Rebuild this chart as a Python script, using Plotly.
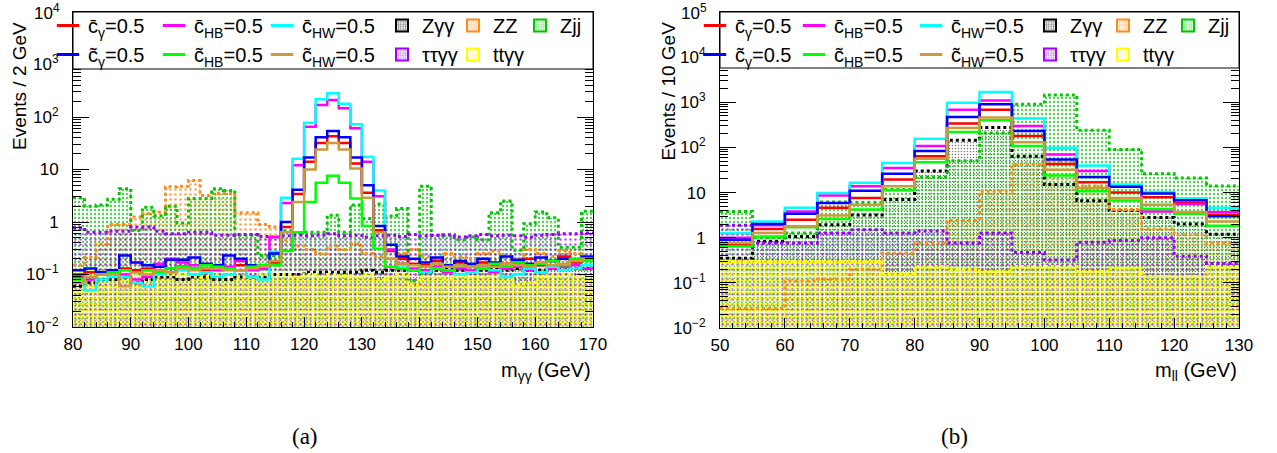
import plotly.graph_objects as go

W, H = 1277, 453

# ---------------- data: left panel (m_yy, 2 GeV bins 80-170) ----------------
myy_edges = list(range(80, 172, 2))

L_cbar_g = [0.10,0.11,0.10,0.11,0.13,0.12,0.13,0.12,0.13,0.14,0.13,0.12,0.14,0.13,0.15,0.13,0.14,0.17,
            0.8,3.4,14,32,43,32,13,3.6,0.7,
            0.28,0.2,0.16,0.15,0.18,0.15,0.17,0.14,0.17,0.15,0.16,0.17,0.2,0.15,0.18,0.22,0.17,0.2]
L_cbar_HB = [0.09,0.08,0.10,0.12,0.10,0.08,0.09,0.16,0.20,0.17,0.15,0.13,0.12,0.14,0.18,0.12,0.13,0.52,
             2.3,12,65,170,210,147,61,14,3.1,
             0.3,0.16,0.13,0.12,0.14,0.11,0.13,0.12,0.15,0.11,0.13,0.14,0.12,0.16,0.13,0.14,0.15,0.13]
L_cbar_HW = [0.07,0.05,0.08,0.09,0.09,0.07,0.06,0.10,0.11,0.12,0.10,0.11,0.09,0.10,0.12,0.09,0.08,0.27,
             2.9,16,78,218,282,178,73,17.5,4.0,
             0.2,0.15,0.12,0.11,0.13,0.12,0.1,0.11,0.13,0.12,0.09,0.1,0.13,0.11,0.14,0.12,0.13,0.15]
L_ctil_g = [0.12,0.13,0.11,0.12,0.23,0.17,0.15,0.14,0.19,0.19,0.21,0.16,0.15,0.23,0.20,0.15,0.14,0.25,
            1.0,4.1,17,41,54,41,17,5.0,0.84,
            0.37,0.22,0.2,0.17,0.21,0.15,0.18,0.16,0.2,0.17,0.22,0.19,0.16,0.21,0.18,0.2,0.19,0.22]
L_ctil_HB = [0.08,0.09,0.1,0.11,0.12,0.11,0.12,0.11,0.13,0.14,0.13,0.15,0.14,0.13,0.12,0.14,0.15,0.15,
             0.28,0.64,2.4,5.6,7.6,5.6,2.8,0.84,0.31,
             0.14,0.13,0.12,0.14,0.13,0.12,0.15,0.14,0.13,0.16,0.14,0.17,0.15,0.16,0.18,0.15,0.2,0.18]
L_ctil_HW = [0.07,0.09,0.1,0.1,0.06,0.11,0.1,0.12,0.11,0.13,0.12,0.13,0.13,0.12,0.12,0.13,0.14,0.18,
             0.64,2.4,10,24,32,24,10.5,2.9,0.64,
             0.2,0.16,0.15,0.14,0.16,0.14,0.15,0.14,0.15,0.14,0.16,0.15,0.14,0.17,0.15,0.16,0.18,0.2]

L_Zyy = [0.06,0.07,0.08,0.08,0.09,0.07,0.08,0.09,0.09,0.08,0.09,0.09,0.08,0.08,0.09,0.09,0.09,0.1,
         0.1,0.1,0.11,0.11,0.11,0.11,0.11,0.12,0.11,0.12,0.12,0.12,0.11,0.12,0.13,0.12,0.12,0.12,
         0.13,0.12,0.13,0.12,0.12,0.13,0.14,0.13,0.13]
L_ZZ = [0.15,0.21,0.38,0.9,0.9,1.25,1.44,1.55,4.7,4.8,6.2,3.2,3.5,3.5,1.5,1.5,0.9,0.8,
        0.45,0.35,0.3,0.25,0.35,0.3,0.38,0.25,0.22,0.2,0.25,0.3,0.22,0.2,0.25,0.22,0.2,0.25,
        0.28,0.22,0.2,0.3,0.25,0.22,0.28,0.25,0.2]
L_Zjj = [2.9,2.0,2.1,2.7,4.3,0.69,1.9,1.3,2.0,0.96,2.8,2.8,4.3,4.0,0.56,0.56,0.23,0.23,
         0.68,0.62,0.64,0.64,1.34,0.64,2.1,1.16,2.2,1.3,1.8,0.077,4.8,0.56,0.55,0.46,0.52,0.46,
         1.5,2.5,0.29,0.93,1.55,1.2,0.33,0.33,1.6]
L_ttaa = [0.78,0.64,0.64,0.67,0.67,0.8,0.8,0.67,0.6,0.6,0.64,0.64,0.56,0.56,0.58,0.58,0.53,0.52,
          0.55,0.56,0.55,0.56,0.6,0.55,0.56,0.52,0.55,0.56,0.53,0.58,0.55,0.56,0.57,0.52,0.55,0.58,
          0.55,0.56,0.55,0.52,0.56,0.58,0.6,0.6,0.62]
L_ttyy = [0.11,0.12,0.1,0.11,0.1,0.1,0.11,0.1,0.1,0.1,0.1,0.09,0.1,0.1,0.09,0.09,0.1,0.1,
          0.1,0.09,0.1,0.09,0.1,0.095,0.09,0.1,0.08,0.09,0.1,0.065,0.09,0.09,0.085,0.095,0.09,0.09,
          0.1,0.09,0.065,0.07,0.09,0.095,0.1,0.09,0.1]

# ---------------- data: right panel (m_ll, 5 GeV bins 50-130) ----------------
mll_edges = list(range(50, 135, 5))

R_cbar_g = [0.7,1.56,2.5,4.6,7.6,19.4,64,340,680,180,43,17,10,7.9,5.9,3.2]
R_cbar_HB = [1.0,1.9,3.8,8.6,13.8,35,107,680,1100,300,70,30,13.4,3.8,5.6,3.7]
R_cbar_HW = [1.27,2.3,4.6,9.8,16.4,45,156,980,1700,440,98,40,15,10.3,7.4,4.6]
R_ctil_g = [0.9,2.0,3.4,5.9,11,26,83,470,900,230,54,22,13.4,9.5,6.8,3.0]
R_ctil_HB = [0.64,1.07,1.7,2.6,4.2,11.3,47,220,400,107,24,10.7,6.7,4.3,3.4,1.85]
R_ctil_HW = [0.76,1.27,1.8,3.1,5.4,13.8,56,270,460,130,32,12.7,7.6,5.4,3.7,2.3]

R_Zyy = [0.35,0.83,1.07,1.94,3.2,7,30,145,275,64,15,6.6,4.0,2.8,2.0,1.2]
R_ZZ = [0.027,0.027,0.11,0.12,0.2,0.45,0.75,2.4,10.7,42,50,14,4.2,1.56,1.16,0.76]
R_Zjj = [3.8,1.0,1.27,6.2,6.0,11.7,22,51,210,900,1450,240,90,26,21,14]
R_ttaa = [1.9,0.76,0.76,1.27,1.5,1.27,1.4,0.76,1.27,0.47,0.32,0.79,0.87,1.0,0.39,0.27]
R_ttyy = [0.3,0.3,0.3,0.3,0.3,0.16,0.23,0.2,0.18,0.23,0.23,0.18,0.21,0.14,0.14,0.23]

# ---------------- labels / styles ----------------
sig_names = ["c\u0304<sub>γ</sub>=0.5", "c\u0304<sub>HB</sub>=0.5", "c\u0304<sub>HW</sub>=0.5",
             "c\u0303<sub>γ</sub>=0.5", "c\u0303<sub>HB</sub>=0.5", "c\u0303<sub>HW</sub>=0.5"]
sig_colors = ["#ff0000", "#ff00ff", "#00ffff", "#0000ff", "#00ff00", "#cc9a3c"]
bg_names = ["Zγγ", "ZZ", "Zjj", "ττγγ", "ttγγ"]
bg_colors = ["#000000", "#ff8c1a", "#00c800", "#9900ff", "#ffff00"]
# pattern (size, solidity, opacity) per background
bg_pat = [(3, 0.18, 0.55), (5, 0.22, 0.75), (4, 0.26, 0.75), (5, 0.18, 0.7), (3, 0.42, 0.95)]

ytick_l = [0.01, 0.1, 1, 10, 100, 1000]
ytext_l = ["10<sup>−2</sup>", "10<sup>−1</sup>", "1", "10", "10<sup>2</sup>", "10<sup>3</sup>"]
ytick_r = [0.01, 0.1, 1, 10, 100, 1000, 10000]
ytext_r = ytext_l + ["10<sup>4</sup>"]
top_label_l = "10<sup>4</sup>"
top_label_r = "10<sup>5</sup>"

FONT = "Liberation Sans"
fig = go.Figure()


def px_x(p):
    return p / W


def px_y(p):
    return 1 - p / H


def add_panel(xa, ya, edges, sigs, bgs, col_legends):
    centers = [(a + b) / 2 for a, b in zip(edges[:-1], edges[1:])]
    widths = [b - a for a, b in zip(edges[:-1], edges[1:])]
    # backgrounds: pattern fill + dotted outline
    for vals, col, (sz, sol, op) in zip(bgs, bg_colors, bg_pat):
        fig.add_trace(go.Bar(x=centers, y=vals, width=widths, xaxis=xa, yaxis=ya,
                             marker=dict(color="rgba(0,0,0,0)", line=dict(width=0),
                                         pattern=dict(shape=".", fgcolor=col, bgcolor="rgba(0,0,0,0)",
                                                      size=sz, solidity=sol, fgopacity=op)),
                             showlegend=False, hoverinfo="skip"))
    for vals, col in zip(bgs, bg_colors):
        fig.add_trace(go.Scatter(x=edges, y=vals + [vals[-1]], xaxis=xa, yaxis=ya, mode="lines",
                                 line=dict(shape="hv", color=col, width=3, dash="dot"),
                                 showlegend=False, hoverinfo="skip"))
    for vals, col in zip(sigs, sig_colors):
        fig.add_trace(go.Scatter(x=edges, y=vals + [vals[-1]], xaxis=xa, yaxis=ya, mode="lines",
                                 line=dict(shape="hv", color=col, width=2.5),
                                 showlegend=False, hoverinfo="skip"))
    # legend entries (one legend per column)
    sig_cols = [[0, 3], [1, 4], [2, 5]]
    for ci, idxs in enumerate(sig_cols):
        lg = col_legends[ci]
        for r, i in enumerate(idxs):
            fig.add_trace(go.Scatter(x=[None], y=[None], xaxis=xa, yaxis=ya, mode="markers",
                                     name=sig_names[i], legend=lg, legendgroup=f"{lg}_{r}",
                                     marker=dict(symbol="line-ew", size=16,
                                                 line=dict(width=3, color=sig_colors[i]))))
    bg_cols = [[0, 3], [1, 4], [2]]
    for ci, idxs in enumerate(bg_cols):
        lg = col_legends[3 + ci]
        for r, i in enumerate(idxs):
            fig.add_trace(go.Bar(x=[None], y=[None], xaxis=xa, yaxis=ya, name=bg_names[i],
                                 legend=lg, legendgroup=f"{lg}_{r}",
                                 marker=dict(color="rgba(0,0,0,0)", line=dict(width=2, color=bg_colors[i]),
                                             pattern=dict(shape=".", fgcolor=bg_colors[i],
                                                          bgcolor="rgba(0,0,0,0)", size=3,
                                                          solidity=0.45))))


left_leg = ["legend", "legend2", "legend3", "legend4", "legend5", "legend6"]
right_leg = ["legend7", "legend8", "legend9", "legend10", "legend11", "legend12"]

add_panel("x", "y", myy_edges,
          [L_cbar_g, L_cbar_HB, L_cbar_HW, L_ctil_g, L_ctil_HB, L_ctil_HW],
          [L_Zyy, L_ZZ, L_Zjj, L_ttaa, L_ttyy], left_leg)
add_panel("x2", "y2", mll_edges,
          [R_cbar_g, R_cbar_HB, R_cbar_HW, R_ctil_g, R_ctil_HB, R_ctil_HW],
          [R_Zyy, R_ZZ, R_Zjj, R_ttaa, R_ttyy], right_leg)

# frame geometry (pixels)
LX0, LX1 = 73, 593
RX0, RX1 = 720, 1239
TOP, BOT = 12, 327

axis_common = dict(showline=True, linecolor="black", linewidth=1, mirror="allticks",
                   ticks="inside", tickcolor="black", showgrid=False, zeroline=False,
                   automargin=False,
                   tickfont=dict(family=FONT, size=17, color="black"))

xt_l = list(range(80, 171, 10))
xt_r = list(range(50, 131, 10))
fig.update_layout(
    xaxis=dict(domain=[px_x(LX0), px_x(LX1)], range=[80, 170], anchor="y", tickvals=xt_l,
               ticklen=10, minor=dict(dtick=2, ticks="inside", ticklen=5, tickcolor="black"),
               ticklabelstandoff=2, **axis_common),
    yaxis=dict(domain=[px_y(BOT), px_y(TOP)], type="log", range=[-2, 4], anchor="x",
               tickvals=ytick_l, ticktext=ytext_l,
               ticklen=16, minor=dict(dtick="D1", ticks="inside", ticklen=8, tickcolor="black"),
               ticklabelstandoff=10, **axis_common),
    xaxis2=dict(domain=[px_x(RX0), px_x(RX1)], range=[50, 130], anchor="y2", tickvals=xt_r,
                ticklen=10, minor=dict(dtick=2, ticks="inside", ticklen=5, tickcolor="black"),
                ticklabelstandoff=2, **axis_common),
    yaxis2=dict(domain=[px_y(BOT + 1), px_y(TOP)], type="log", range=[-2, 5], anchor="x2",
                tickvals=ytick_r, ticktext=ytext_r,
                ticklen=16, minor=dict(dtick="D1", ticks="inside", ticklen=8, tickcolor="black"),
                ticklabelstandoff=10, **axis_common),
    barmode="overlay", bargap=0,
    width=W, height=H, margin=dict(l=0, r=0, t=0, b=0),
    paper_bgcolor="white", plot_bgcolor="white",
    font=dict(family=FONT, color="black"),
)

# legends: one per column
leg_left_px = [48, 154, 262, 382, 453, 520]
leg_right_px = [695, 794, 911, 1030, 1103, 1168]
for names, xs in ((left_leg, leg_left_px), (right_leg, leg_right_px)):
    for nm, xp in zip(names, xs):
        fig.update_layout({nm: dict(x=px_x(xp), xanchor="left", y=px_y(6), yanchor="top",
                                    orientation="v", bgcolor="rgba(0,0,0,0)", borderwidth=0,
                                    tracegroupgap=0, traceorder="grouped", itemclick=False,
                                    itemdoubleclick=False,
                                    font=dict(family=FONT, size=20, color="black"))})

# legend boxes
for x0, x1, yb in ((LX0, LX1, 69), (RX0, RX1, 68)):
    fig.add_shape(type="rect", xref="paper", yref="paper", x0=px_x(x0), x1=px_x(x1),
                  y0=px_y(yb), y1=px_y(TOP), fillcolor="white", line=dict(color="black", width=1),
                  layer="above")

# axis titles, top-most tick labels and captions
ann = [
    dict(text=top_label_l, x=px_x(LX0 - 11), y=px_y(TOP), xanchor="right", yanchor="middle",
         font=dict(size=17, family=FONT)),
    dict(text=top_label_r, x=px_x(RX0 - 11), y=px_y(TOP), xanchor="right", yanchor="middle",
         font=dict(size=17, family=FONT)),
    dict(text="m<sub>γγ</sub> (GeV)", x=px_x(LX1), y=px_y(371), xanchor="right", yanchor="middle",
         font=dict(size=20, family=FONT)),
    dict(text="m<sub>ll</sub> (GeV)", x=px_x(RX1), y=px_y(371), xanchor="right", yanchor="middle",
         font=dict(size=20, family=FONT)),
    dict(text="Events / 2 GeV", x=px_x(19), y=px_y(20), xanchor="center", yanchor="top",
         textangle=-90, font=dict(size=19, family=FONT)),
    dict(text="Events / 10 GeV", x=px_x(668), y=px_y(20), xanchor="center", yanchor="top",
         textangle=-90, font=dict(size=19, family=FONT)),
    dict(text="(a)", x=px_x(305), y=px_y(436), xanchor="center", yanchor="middle",
         font=dict(size=23, family="Liberation Serif")),
    dict(text="(b)", x=px_x(954), y=px_y(436), xanchor="center", yanchor="middle",
         font=dict(size=23, family="Liberation Serif")),
]
for a in ann:
    a.update(xref="paper", yref="paper", showarrow=False)
    fig.add_annotation(**a)

fig.write_html("out.html", config={"displayModeBar": False},
               post_script="document.body.style.margin='0px';document.body.style.overflow='hidden';")
